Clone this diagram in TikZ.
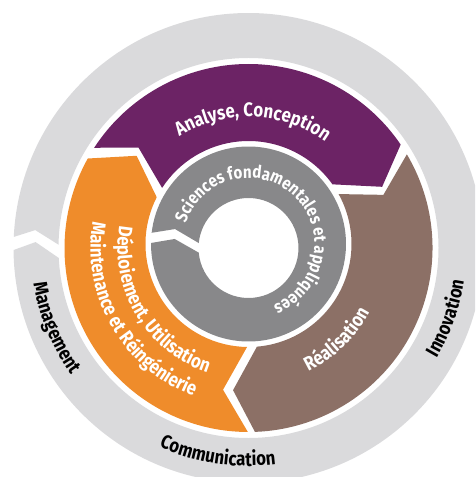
\documentclass[tikz,border=0pt]{standalone}
\usepackage{fontspec}
\usetikzlibrary{calc,decorations.text}
\newfontfamily\lab[FakeStretch=0.86]{Fira Sans}
\newcommand\fA{\lab\bfseries\fontsize{19.5pt}{19.5pt}\selectfont}
\newcommand\fS{\lab\bfseries\fontsize{17.5pt}{17.5pt}\selectfont}
\definecolor{cpurple}{RGB}{108,35,101}
\definecolor{corange}{RGB}{239,140,43}
\definecolor{cbrown}{RGB}{140,112,102}
\definecolor{cgray}{RGB}{136,136,138}
\definecolor{clight}{RGB}{218,218,220}
\tikzset{
  wtext/.style={decorate, decoration={text along path, text align=center, text color=white, text={|\fA|#1}}},
  btext/.style={decorate, decoration={text along path, text align=center, text color=black, text={|\fA|#1}}},
}
\begin{document}
\begin{tikzpicture}
\useasboundingbox (-248.5pt,-229pt) rectangle (226.5pt,248pt);
\clip (-248.5pt,-229pt) rectangle (226.5pt,248pt);
\coordinate (C) at (0,0);
\coordinate (C2) at (0,4pt);

% outer ring
\fill[clight] (177.3:235pt) arc[start angle=177.3, end angle=-179.5, radius=235pt]
  -- (178.4:213pt) -- (-177:190pt) arc[start angle=-177, end angle=179, radius=190pt]
  -- (175.2:214pt) -- cycle;

% purple
\fill[cpurple] (147:184pt) arc[start angle=147, end angle=34.2, radius=184pt]
  -- (24.6:147pt) -- ($(C2)+(35.4:103pt)$) arc[start angle=35.4, end angle=147, radius=103pt]
  -- (137.6:149pt) -- cycle;
% brown
\fill[cbrown] (30.6:184pt) arc[start angle=30.6, end angle=-88, radius=184pt]
  -- (-96.2:143pt) -- ($(C2)+(-85.3:103pt)$) arc[start angle=-85.3, end angle=29, radius=103pt]
  -- (21.5:145pt) -- cycle;
% orange
\fill[corange] (-90.2:184pt) arc[start angle=-90.2, end angle=-209.1, radius=184pt]
  -- (140.5:145pt) -- ($(C2)+(153:103pt)$) arc[start angle=153, end angle=269.2, radius=103pt]
  -- (259.8:144pt) -- cycle;

% gray ring
\fill[cgray] ($(C2)+(173.4:97.5pt)$) arc[start angle=173.4, end angle=-180.6, radius=97.5pt]
  -- ($(C2)+(176.1:74pt)$) -- (185.3:50pt) arc[start angle=185.3, end angle=534.3, radius=50pt]
  -- ($(C2)+(168.5:75pt)$) -- cycle;

% texts
\path[wtext={Analyse, Conception}] (160:131pt) arc[start angle=160, end angle=16, radius=131pt];
\path[decorate, decoration={text along path, text align=left, text color=white,
  text={|\fS|Sciences fondamentales et appliquées}}]
  ($(C2)+(162:66pt)$) arc[start angle=162, end angle=-150, radius=66pt];
\path[wtext={Réalisation}] (-90:137pt) arc[start angle=-90, end angle=-2, radius=137pt];
\path[wtext={Déploiement, Utilisation}] (165:131pt) arc[start angle=165, end angle=257, radius=131pt];
\path[wtext={Maintenance et Réingénierie}] (165:158pt) arc[start angle=165, end angle=255, radius=158pt];
\path[btext={Management}] (170:218pt) arc[start angle=170, end angle=235, radius=218pt];
\path[btext={Communication}] (230:218pt) arc[start angle=230, end angle=293, radius=218pt];
\path[btext={Innovation}] (-50:218pt) arc[start angle=-50, end angle=11, radius=218pt];
\end{tikzpicture}
\end{document}
